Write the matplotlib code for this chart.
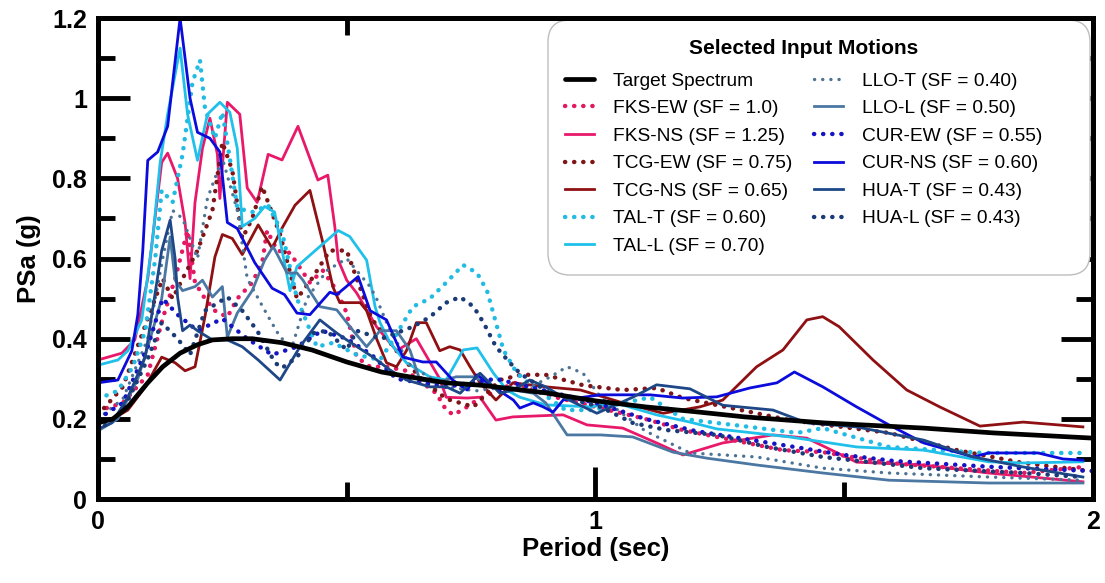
import matplotlib
matplotlib.use("Agg")
import matplotlib.pyplot as plt
from matplotlib.ticker import MultipleLocator, FixedLocator
from matplotlib.patches import FancyBboxPatch
from matplotlib.transforms import IdentityTransform
from matplotlib import font_manager

# ---------------- data (period in sec, PSa in g) ----------------
target_T = [0, 0.03, 0.06, 0.1, 0.13, 0.165, 0.2, 0.23, 0.27, 0.31, 0.37, 0.43, 0.5, 0.57, 0.63, 0.7,
            0.77, 0.9, 1.0, 1.1, 1.2, 1.3, 1.46, 1.66, 1.8, 2.0]
target_S = [0.19, 0.2, 0.23, 0.29, 0.33, 0.364, 0.385, 0.397, 0.40, 0.40, 0.39, 0.372, 0.342, 0.317, 0.304, 0.29,
            0.284, 0.265, 0.245, 0.23, 0.218, 0.205, 0.19, 0.177, 0.165, 0.152]

fks_ew_T = [0, 0.05, 0.1, 0.13, 0.155, 0.18, 0.195, 0.215, 0.235, 0.26, 0.28, 0.31, 0.33, 0.34, 0.36, 0.386,
            0.426, 0.452, 0.48, 0.50, 0.52, 0.547, 0.58, 0.62, 0.68, 0.70, 0.715, 0.742, 0.762, 0.80, 0.84, 0.9,
            1.0, 1.1, 1.176, 1.276, 1.377, 1.457, 1.59, 1.727, 1.86, 1.98]
fks_ew_S = [0.22, 0.24, 0.31, 0.45, 0.55, 0.67, 0.54, 0.5, 0.47, 0.454, 0.50, 0.54, 0.59, 0.67, 0.62, 0.614,
            0.54, 0.57, 0.52, 0.464, 0.354, 0.33, 0.33, 0.32, 0.264, 0.222, 0.21, 0.23, 0.247, 0.27, 0.29, 0.26,
            0.23, 0.2, 0.172, 0.147, 0.122, 0.117, 0.09, 0.077, 0.065, 0.08]

fks_ns_T = [0, 0.048, 0.074, 0.1, 0.128, 0.14, 0.16, 0.175, 0.185, 0.195, 0.21, 0.225, 0.24, 0.245, 0.26, 0.285,
            0.30, 0.32, 0.342, 0.37, 0.402, 0.442, 0.462, 0.476, 0.483, 0.50, 0.52, 0.56, 0.60, 0.64, 0.687, 0.70,
            0.742, 0.768, 0.80, 0.834, 0.935, 0.983, 1.055, 1.123, 1.176, 1.256, 1.357, 1.425, 1.525, 1.66, 1.79,
            1.98]
fks_ns_S = [0.347, 0.364, 0.397, 0.55, 0.84, 0.863, 0.80, 0.69, 0.55, 0.74, 0.875, 0.95, 0.86, 0.75, 0.99, 0.96,
            0.776, 0.74, 0.86, 0.846, 0.93, 0.796, 0.808, 0.68, 0.596, 0.546, 0.514, 0.43, 0.37, 0.40, 0.30, 0.254,
            0.252, 0.254, 0.197, 0.205, 0.21, 0.185, 0.177, 0.14, 0.11, 0.14, 0.16, 0.152, 0.092, 0.085, 0.065,
            0.043]

tcg_ew_T = [0, 0.05, 0.1, 0.13, 0.15, 0.17, 0.2, 0.23, 0.25, 0.27, 0.29, 0.31, 0.33, 0.366, 0.4, 0.43, 0.466,
            0.50, 0.52, 0.55, 0.6, 0.65, 0.7, 0.755, 0.808, 0.85, 0.9, 0.975, 1.055, 1.123, 1.176, 1.39, 1.59,
            1.727, 1.86, 1.98]
tcg_ew_S = [0.21, 0.28, 0.45, 0.55, 0.5, 0.55, 0.62, 0.72, 0.89, 0.82, 0.65, 0.7, 0.78, 0.66, 0.5, 0.55, 0.62,
            0.62, 0.55, 0.45, 0.37, 0.3, 0.25, 0.23, 0.297, 0.31, 0.31, 0.284, 0.272, 0.277, 0.252, 0.197, 0.165,
            0.122, 0.09, 0.072]

tcg_ns_T = [0, 0.03, 0.06, 0.095, 0.128, 0.155, 0.175, 0.195, 0.215, 0.235, 0.25, 0.27, 0.29, 0.322, 0.35, 0.37,
            0.396, 0.426, 0.452, 0.472, 0.486, 0.527, 0.54, 0.56, 0.58, 0.60, 0.62, 0.64, 0.66, 0.687, 0.707, 0.728,
            0.748, 0.768, 0.80, 0.834, 0.90, 0.97, 1.055, 1.136, 1.21, 1.256, 1.324, 1.377, 1.425, 1.457, 1.49,
            1.558, 1.626, 1.692, 1.773, 1.86, 1.98]
tcg_ns_S = [0.19, 0.2, 0.222, 0.28, 0.354, 0.34, 0.32, 0.33, 0.455, 0.604, 0.66, 0.65, 0.61, 0.684, 0.626, 0.676,
            0.733, 0.77, 0.64, 0.53, 0.49, 0.49, 0.47, 0.40, 0.34, 0.33, 0.37, 0.44, 0.44, 0.37, 0.38, 0.372,
            0.33, 0.29, 0.247, 0.29, 0.28, 0.272, 0.24, 0.214, 0.23, 0.247, 0.33, 0.372, 0.447, 0.455, 0.43,
            0.347, 0.272, 0.23, 0.182, 0.192, 0.18]

tal_t_T = [0, 0.04, 0.07, 0.095, 0.115, 0.128, 0.15, 0.17, 0.19, 0.205, 0.215, 0.235, 0.25, 0.265, 0.28, 0.31,
           0.342, 0.37, 0.40, 0.44, 0.473, 0.52, 0.567, 0.593, 0.633, 0.667, 0.70, 0.734, 0.762, 0.782, 0.80,
           0.815, 0.842, 0.875, 0.94, 0.995, 1.11, 1.176, 1.31, 1.405, 1.457, 1.59, 1.78, 1.98]
tal_t_S = [0.25, 0.27, 0.33, 0.42, 0.6, 0.77, 0.74, 0.86, 1.04, 1.095, 0.975, 0.90, 0.965, 0.85, 0.726, 0.716,
           0.733, 0.666, 0.5, 0.38, 0.39, 0.36, 0.347, 0.397, 0.48, 0.50, 0.54, 0.584, 0.564, 0.52, 0.44,
           0.372, 0.314, 0.28, 0.222, 0.222, 0.254, 0.20, 0.18, 0.165, 0.177, 0.13, 0.115, 0.115]

tal_l_T = [0, 0.04, 0.06, 0.088, 0.11, 0.125, 0.14, 0.165, 0.18, 0.20, 0.22, 0.245, 0.265, 0.28, 0.29, 0.315,
           0.335, 0.355, 0.37, 0.386, 0.40, 0.446, 0.483, 0.506, 0.54, 0.557, 0.567, 0.587, 0.62, 0.667, 0.70,
           0.734, 0.762, 0.795, 0.822, 0.848, 0.90, 0.99, 1.04, 1.123, 1.19, 1.244, 1.39, 1.525, 1.66, 1.79,
           1.86, 1.98]
tal_l_S = [0.334, 0.347, 0.37, 0.447, 0.65, 0.84, 0.96, 1.125, 0.96, 0.845, 0.96, 0.99, 0.965, 0.875, 0.68, 0.70,
           0.73, 0.716, 0.62, 0.52, 0.58, 0.63, 0.67, 0.655, 0.596, 0.48, 0.44, 0.39, 0.34, 0.305, 0.297,
           0.372, 0.377, 0.314, 0.272, 0.254, 0.235, 0.23, 0.24, 0.21, 0.192, 0.175, 0.155, 0.13, 0.122, 0.093,
           0.09, 0.093]

llo_t_T = [0, 0.05, 0.1, 0.13, 0.15, 0.17, 0.2, 0.22, 0.25, 0.28, 0.3, 0.34, 0.366, 0.39, 0.42, 0.46, 0.5, 0.547,
           0.56, 0.587, 0.63, 0.7, 0.76, 0.82, 0.87, 0.908, 0.943, 0.975, 1.01, 1.1, 1.19, 1.324, 1.457, 1.59,
           1.79, 1.98]
llo_t_S = [0.2, 0.25, 0.4, 0.6, 0.72, 0.7, 0.6, 0.75, 0.85, 0.72, 0.55, 0.46, 0.404, 0.38, 0.5, 0.57, 0.6, 0.53,
           0.5, 0.42, 0.33, 0.28, 0.27, 0.28, 0.28, 0.304, 0.33, 0.314, 0.255, 0.17, 0.115, 0.105, 0.077, 0.065,
           0.055, 0.047]

llo_l_T = [0, 0.04, 0.08, 0.105, 0.128, 0.145, 0.155, 0.17, 0.195, 0.21, 0.23, 0.25, 0.26, 0.28, 0.31, 0.335,
           0.352, 0.38, 0.40, 0.412, 0.446, 0.48, 0.513, 0.54, 0.567, 0.60, 0.627, 0.647, 0.68, 0.72, 0.755,
           0.795, 0.835, 0.875, 0.90, 0.943, 1.01, 1.075, 1.156, 1.224, 1.324, 1.457, 1.59, 1.79, 1.98]
llo_l_S = [0.17, 0.2, 0.3, 0.4, 0.5, 0.654, 0.546, 0.52, 0.53, 0.546, 0.504, 0.53, 0.404, 0.464, 0.52, 0.596,
           0.63, 0.564, 0.564, 0.546, 0.48, 0.472, 0.42, 0.38, 0.42, 0.42, 0.372, 0.297, 0.29, 0.305, 0.305,
           0.28, 0.272, 0.264, 0.24, 0.16, 0.16, 0.155, 0.117, 0.102, 0.085, 0.065, 0.047, 0.04, 0.04]

cur_ew_T = [0, 0.05, 0.1, 0.13, 0.16, 0.2, 0.25, 0.3, 0.35, 0.4, 0.45, 0.5, 0.55, 0.6, 0.7, 0.8, 0.9, 1.0, 1.1,
            1.2, 1.3, 1.4, 1.5, 1.6, 1.8, 2.0]
cur_ew_S = [0.2, 0.24, 0.38, 0.5, 0.46, 0.42, 0.45, 0.4, 0.36, 0.38, 0.42, 0.40, 0.36, 0.3, 0.28, 0.3, 0.27, 0.24,
            0.2, 0.17, 0.15, 0.13, 0.11, 0.095, 0.08, 0.07]

cur_ns_T = [0, 0.04, 0.068, 0.08, 0.09, 0.1, 0.12, 0.14, 0.165, 0.185, 0.2, 0.225, 0.245, 0.26, 0.28, 0.315, 0.35,
            0.375, 0.40, 0.426, 0.466, 0.48, 0.523, 0.547, 0.58, 0.613, 0.653, 0.68, 0.713, 0.742, 0.762, 0.795,
            0.835, 0.848, 0.875, 0.895, 0.915, 0.935, 1.01, 1.11, 1.175, 1.244, 1.31, 1.365, 1.40, 1.457, 1.525,
            1.59, 1.66, 1.76, 1.79, 1.89, 1.94, 1.98]
cur_ns_S = [0.29, 0.297, 0.37, 0.46, 0.62, 0.845, 0.866, 0.93, 1.2, 1.0, 0.915, 0.90, 0.866, 0.69, 0.675, 0.59,
            0.526, 0.51, 0.464, 0.46, 0.516, 0.51, 0.555, 0.47, 0.447, 0.354, 0.342, 0.342, 0.297, 0.272, 0.31,
            0.28, 0.247, 0.227, 0.24, 0.23, 0.217, 0.247, 0.26, 0.26, 0.252, 0.255, 0.277, 0.29, 0.317, 0.28,
            0.23, 0.185, 0.14, 0.105, 0.115, 0.115, 0.10, 0.097]

hua_t_T = [0, 0.028, 0.06, 0.095, 0.128, 0.145, 0.155, 0.16, 0.17, 0.185, 0.2, 0.23, 0.26, 0.29, 0.322, 0.366,
           0.406, 0.446, 0.48, 0.50, 0.553, 0.587, 0.62, 0.667, 0.70, 0.728, 0.768, 0.808, 0.835, 0.868, 0.90,
           0.935, 1.003, 1.075, 1.123, 1.19, 1.256, 1.357, 1.425, 1.525, 1.66, 1.76, 1.86, 1.98]
hua_t_S = [0.175, 0.19, 0.254, 0.354, 0.62, 0.696, 0.6, 0.504, 0.42, 0.434, 0.42, 0.397, 0.397, 0.38, 0.347,
           0.297, 0.38, 0.447, 0.414, 0.397, 0.354, 0.322, 0.297, 0.28, 0.28, 0.264, 0.314, 0.264, 0.272, 0.297,
           0.28, 0.254, 0.214, 0.254, 0.285, 0.275, 0.234, 0.222, 0.19, 0.18, 0.147, 0.105, 0.08, 0.055]

hua_l_T = [0, 0.05, 0.1, 0.128, 0.16, 0.185, 0.215, 0.26, 0.29, 0.32, 0.356, 0.37, 0.40, 0.433, 0.46, 0.50, 0.52,
           0.57, 0.633, 0.667, 0.70, 0.728, 0.755, 0.775, 0.80, 0.828, 0.848, 0.908, 1.01, 1.075, 1.144, 1.244,
           1.345, 1.457, 1.66, 1.86, 1.98]
hua_l_S = [0.17, 0.22, 0.35, 0.44, 0.4, 0.36, 0.47, 0.504, 0.47, 0.42, 0.34, 0.327, 0.354, 0.414, 0.42, 0.372,
           0.42, 0.40, 0.43, 0.454, 0.49, 0.504, 0.48, 0.44, 0.38, 0.34, 0.314, 0.264, 0.23, 0.19, 0.172, 0.16,
           0.13, 0.105, 0.077, 0.065, 0.055]

labels = ["Target Spectrum", "FKS-EW (SF = 1.0)", "FKS-NS (SF = 1.25)", "TCG-EW (SF = 0.75)",
          "TCG-NS (SF = 0.65)", "TAL-T (SF = 0.60)", "TAL-L (SF = 0.70)", "LLO-T (SF = 0.40)",
          "LLO-L (SF = 0.50)", "CUR-EW (SF = 0.55)", "CUR-NS (SF = 0.60)", "HUA-T (SF = 0.43)",
          "HUA-L (SF = 0.43)"]
x_ticklabels = ["0", "1", "2"]
y_ticklabels = ["0", "0.2", "0.4", "0.6", "0.8", "1", "1.2"]

# ---------------- style ----------------
available = {f.name for f in font_manager.fontManager.ttflist}
narrow = "Liberation Sans Narrow" if "Liberation Sans Narrow" in available else "Liberation Sans"

series = [
    (target_T, target_S, "#000000", "solid"),
    (fks_ew_T, fks_ew_S, "#E3185F", "dot"),
    (fks_ns_T, fks_ns_S, "#E8196A", "solid"),
    (tcg_ew_T, tcg_ew_S, "#7E1518", "dot"),
    (tcg_ns_T, tcg_ns_S, "#8E1012", "solid"),
    (tal_t_T, tal_t_S, "#22BBE3", "dot"),
    (tal_l_T, tal_l_S, "#1FC0EA", "solid"),
    (llo_t_T, llo_t_S, "#4C7396", "smalldot"),
    (llo_l_T, llo_l_S, "#4B77A3", "solid"),
    (cur_ew_T, cur_ew_S, "#1414C4", "dot"),
    (cur_ns_T, cur_ns_S, "#0B0BDC", "solid"),
    (hua_t_T, hua_t_S, "#1D4787", "solid"),
    (hua_l_T, hua_l_S, "#1B3B78", "dot"),
]

W, H = 1105, 583
fig = plt.figure(figsize=(W / 100, H / 100), dpi=100)
ax = fig.add_axes([0.0887, 0.144, 0.9003, 0.825])

handles = []
for i, (T, S, c, st) in enumerate(series):
    if i == 0:
        h, = ax.plot(T, S, color=c, lw=3.4, solid_capstyle="round", zorder=3)
    elif st == "solid":
        h, = ax.plot(T, S, color=c, lw=2.0, zorder=2)
    elif st == "dot":
        h, = ax.plot(T, S, color=c, lw=3.2, linestyle=(0, (0.05, 2.0)),
                     dash_capstyle="round", zorder=2)
    else:
        h, = ax.plot(T, S, color=c, lw=2.4, linestyle=(0, (0.05, 2.4)),
                     dash_capstyle="round", zorder=2)
    handles.append(h)

ax.set_xlim(0, 2)
ax.set_ylim(0, 1.2)
ax.xaxis.set_major_locator(FixedLocator([0, 1, 2]))
ax.xaxis.set_minor_locator(FixedLocator([0.5, 1.5]))
ax.yaxis.set_major_locator(FixedLocator([0, 0.2, 0.4, 0.6, 0.8, 1.0, 1.2]))
ax.yaxis.set_minor_locator(MultipleLocator(0.1))
ax.set_xticklabels(x_ticklabels)
ax.set_yticklabels(y_ticklabels)

for sp in ax.spines.values():
    sp.set_linewidth(3.6)
    sp.set_zorder(6)
ax.tick_params(which="major", direction="in", length=23, width=3.5, top=True, right=True,
               labelsize=18, pad=8)
ax.tick_params(which="minor", direction="in", length=12.5, width=3.5, top=True, right=True)
for lab in ax.get_xticklabels() + ax.get_yticklabels():
    lab.set_fontfamily(narrow)
    lab.set_fontweight("bold")

ax.set_xlabel("Period (sec)", fontsize=18.5, fontweight="bold", family="Liberation Sans", labelpad=2)
ax.set_ylabel("PSa (g)", fontsize=18.5, fontweight="bold", family="Liberation Sans", labelpad=8)

# legend frame (rounded box) drawn in pixel coordinates
box = FancyBboxPatch((548, H - 275), 542, 255, boxstyle="round,pad=0,rounding_size=22",
                     transform=IdentityTransform(), facecolor="white", edgecolor="#BDBDBD",
                     linewidth=1.0, zorder=4.5, clip_on=False)
ax.add_patch(box)

leg = ax.legend(handles, labels, ncol=2, loc="upper left", bbox_to_anchor=(0.4693, 0.956),
                prop={"family": "Liberation Sans", "size": 13.8},
                title="Selected Input Motions",
                title_fontproperties={"family": "Liberation Sans", "weight": "bold", "size": 15},
                handlelength=1.5, handletextpad=1.0, columnspacing=1.15, labelspacing=0.53,
                borderpad=0.0, borderaxespad=0.0, frameon=False)
leg._legend_box.sep = 10
leg.set_zorder(5)

fig.savefig("out.png", dpi=100)
